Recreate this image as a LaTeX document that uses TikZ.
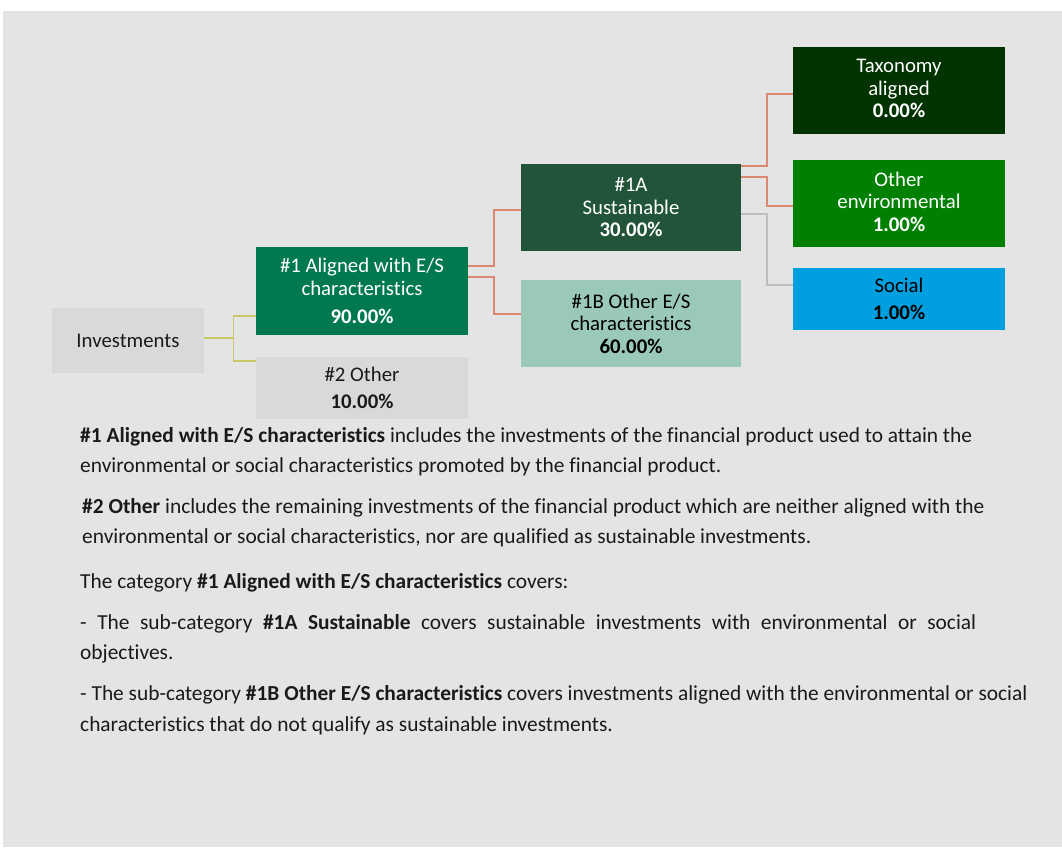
\documentclass[tikz,border=0pt]{standalone}
\usepackage{fontspec}
\setmainfont{Carlito}[Ligatures={NoCommon}]
\definecolor{bg}{HTML}{E4E4E4}
\definecolor{boxgray}{HTML}{D9D9D9}
\definecolor{greenA}{HTML}{00794F}
\definecolor{greenS}{HTML}{215439}
\definecolor{tealB}{HTML}{9BC9B8}
\definecolor{greenT}{HTML}{003300}
\definecolor{greenE}{HTML}{008000}
\definecolor{blueS}{HTML}{009FDF}
\definecolor{redln}{HTML}{DB8872}
\definecolor{yelln}{HTML}{C8C864}
\definecolor{grayln}{HTML}{BEBEBE}
\definecolor{txt}{HTML}{1A1A1A}
\tikzset{
  x=1pt,y=1pt,
  cbox/.style={inner sep=0pt,align=center,font=\fontsize{20.8}{22.5}\selectfont},
  ptext/.style={anchor=base west,inner sep=0pt,text=txt,font=\fontsize{21.4}{26}\selectfont},
  redc/.style={draw=redln,line width=2.2pt},
  yelc/.style={draw=yelln,line width=1.3pt},
  grayc/.style={draw=grayln,line width=2.2pt},
}
\begin{document}
\begin{tikzpicture}
\useasboundingbox (0,0) rectangle (1062,-847);
\fill[bg] (3,-11) rectangle (1062,-847);
% boxes
\node[cbox,fill=boxgray,minimum width=152,minimum height=65,text=txt] (inv) at (128,-340.5) {Investments};
\node[cbox,fill=greenA,minimum width=212,minimum height=88,text=white] (a1) at (362,-291) {\#1 Aligned with E/S\\characteristics\\[6pt]\textbf{90.00\%}};
\node[cbox,fill=boxgray,minimum width=212,minimum height=62,text=txt] (a2) at (362,-388) {\#2 Other\\[5pt]\textbf{10.00\%}};
\node[cbox,fill=greenS,minimum width=220,minimum height=87,text=white] (a1a) at (631,-207.5) {\#1A\\Sustainable\\\textbf{30.00\%}};
\node[cbox,fill=tealB,minimum width=220,minimum height=87,text=black] (a1b) at (631,-323.5) {\#1B Other E/S\\characteristics\\\textbf{60.00\%}};
\node[cbox,fill=greenT,minimum width=212,minimum height=87,text=white,text depth=4pt] (tax) at (899,-90.5) {Taxonomy\\aligned\\\textbf{0.00\%}};
\node[cbox,fill=greenE,minimum width=212,minimum height=87,text=white,text depth=4pt] (oenv) at (899,-203.5) {Other\\environmental\\\textbf{1.00\%}};
\node[cbox,fill=blueS,minimum width=212,minimum height=62,text=black] (soc) at (899,-299) {Social\\[5pt]\textbf{1.00\%}};
% connectors
\coordinate (yj) at ([xshift=29pt,yshift=2.5pt]inv.east);
\draw[yelc] ([yshift=2.5pt]inv.east) -- (yj);
\draw[yelc] (yj) |- ([yshift=-25pt]a1.west);
\draw[yelc] (yj) |- ([yshift=27pt]a2.west);
\draw[redc] ([yshift=25pt]a1.east) -- ++(26,0) |- ([yshift=-2.5pt]a1a.west);
\draw[redc] ([yshift=14pt]a1.east) -- ++(26,0) |- ([yshift=9.5pt]a1b.west);
\draw[redc] ([yshift=41.5pt]a1a.east) -- ++(26,0) |- ([yshift=-3.5pt]tax.west);
\draw[redc] ([yshift=30.5pt]a1a.east) -- ++(26,0) |- ([yshift=-2.5pt]oenv.west);
\draw[grayc] ([yshift=-6.5pt]a1a.east) -- ++(26,0) |- ([yshift=14pt]soc.west);
% text
\node[ptext] (p1a) at (80,-442) {\textbf{\#1 Aligned with E/S characteristics} includes the investments of the financial product used to attain the};
\node[ptext] (p1b) at (80,-472) {environmental or social characteristics promoted by the financial product.};
\node[ptext] (p2a) at (82,-513) {\textbf{\#2 Other} includes the remaining investments of the financial product which are neither aligned with the};
\node[ptext] (p2b) at (82,-543) {environmental or social characteristics, nor are qualified as sustainable investments.};
\node[ptext] (p3) at (80,-588) {The category \textbf{\#1 Aligned with E/S characteristics} covers:};
\node[ptext] (p4a) at (80,-629) {\hbox to 896pt{- The sub-category \textbf{\#1A Sustainable} covers sustainable investments with environmental or social}};
\node[ptext] (p4b) at (80,-659) {objectives.};
\node[ptext] (p5a) at (80,-700) {- The sub-category \textbf{\#1B Other E/S characteristics} covers investments aligned with the environmental or social};
\node[ptext] (p5b) at (80,-731) {characteristics that do not qualify as sustainable investments.};
\end{tikzpicture}
\end{document}
